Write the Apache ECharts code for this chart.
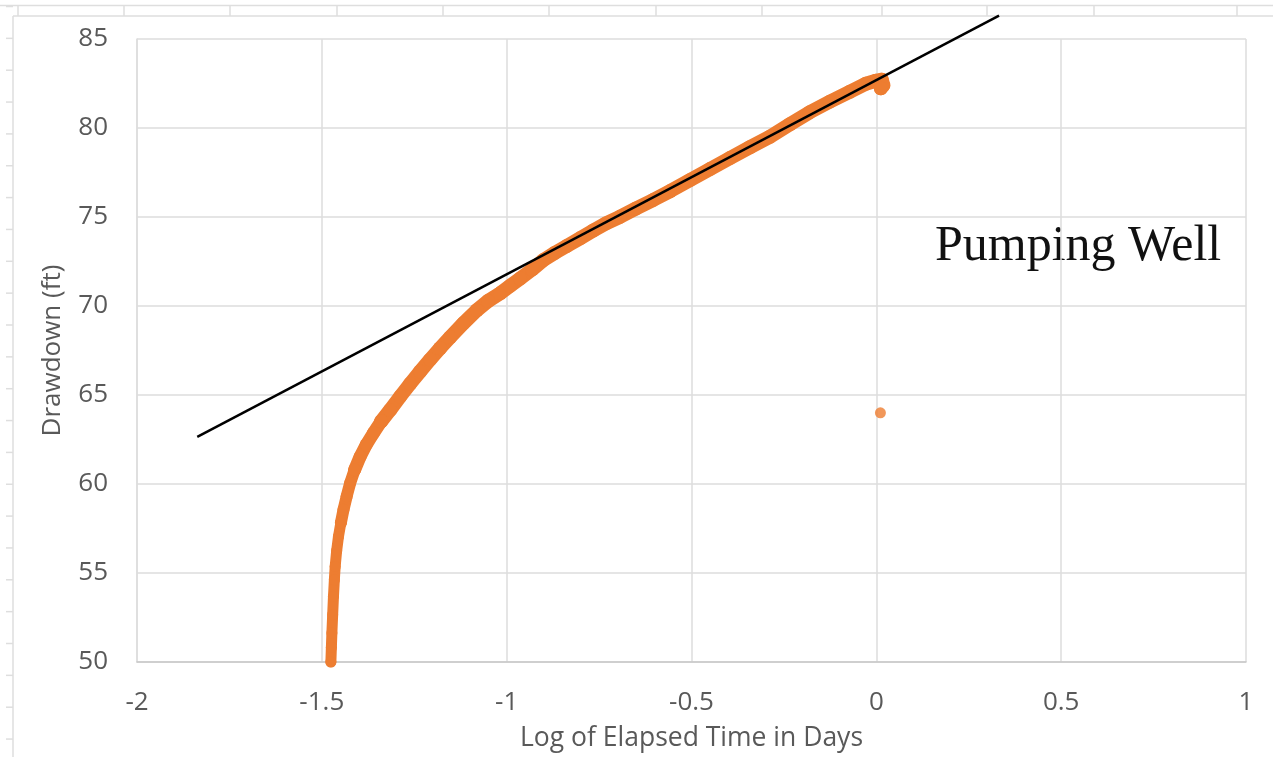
<!DOCTYPE html>
<html>
<head>
<meta charset="utf-8">
<script src="https://cdn.jsdelivr.net/npm/echarts@6/dist/echarts.min.js"></script>
<style>
  html, body { margin: 0; padding: 0; background: #fff; }
  #chart { width: 1273px; height: 757px; }
</style>
</head>
<body>
<div id="chart"></div>
<script>
// log of elapsed time (days) and drawdown (ft)
const logTime = [-1.4755, -1.4742, -1.4728, -1.4707, -1.4685, -1.4661, -1.4639, -1.4599, -1.4550, -1.4485,
  -1.4415, -1.4328, -1.4234, -1.4112, -1.3963, -1.3801, -1.3604, -1.3395, -1.3152, -1.2882,
  -1.2611, -1.2341, -1.2071, -1.1800, -1.1530, -1.1179, -1.0808, -1.0503, -1.0178, -0.9908,
  -0.9638, -0.9313, -0.9008, -0.8692, -0.8375, -0.8016, -0.7656, -0.7313, -0.6934, -0.6502,
  -0.6034, -0.5582, -0.5042, -0.4501, -0.3961, -0.3420, -0.2879, -0.2338, -0.1798, -0.1257,
  -0.0716, -0.0284, -0.0014, 0.0148, 0.0189, 0.0122];
const drawdown = [50.00, 50.81, 51.63, 52.66, 53.69, 54.62, 55.37, 56.25, 57.05, 57.82,
  58.55, 59.31, 60.05, 60.80, 61.54, 62.20, 62.86, 63.52, 64.16, 64.91,
  65.63, 66.32, 66.99, 67.63, 68.24, 69.01, 69.76, 70.28, 70.71, 71.13,
  71.54, 72.05, 72.58, 72.99, 73.37, 73.80, 74.24, 74.64, 75.01, 75.48,
  75.96, 76.45, 77.07, 77.69, 78.31, 78.92, 79.51, 80.21, 80.89, 81.48,
  82.04, 82.49, 82.65, 82.71, 82.40, 82.23];

// the lone low reading at the end of the test
const strayTime = [0.011];
const strayDrawdown = [64.0];

// straight-line fit drawn over the late data
const fitTime = [-1.837, 0.332];
const fitDrawdown = [62.65, 86.31];

const xTicks = [-2, -1.5, -1, -0.5, 0, 0.5, 1];
const yTicks = [50, 55, 60, 65, 70, 75, 80, 85];

const zip = (a, b) => a.map((v, i) => [v, b[i]]);
const points = zip(logTime, drawdown);
const ORANGE = '#ED7D31';
const LABEL = '#595959';

// spreadsheet cell borders behind the chart object
const sheetLines = [];
const gridGray = '#dedede';
function sheetLine(x1, y1, x2, y2) {
  sheetLines.push({ type: 'line', silent: true, shape: { x1, y1, x2, y2 }, style: { stroke: gridGray, lineWidth: 1.5 } });
}
sheetLine(0, 5.5, 1273, 5.5);
sheetLine(13, 16, 1273, 16);
sheetLine(13, 16, 13, 757);
[18, 124, 230, 337, 443, 549, 656, 762, 882, 987, 1094, 1237].forEach(x => sheetLine(x, 5, x, 16));
for (let y = 6.5; y < 757; y += 31.85) sheetLine(6, y, 13, y);

// the dots pile up thicker once the curve leans over, so the trail widens a bit
const bandPieces = [[0, 10, 11], [9, 14, 12], [13, 18, 13], [17, points.length, 14]];
const bandSeries = bandPieces.map(([from, to, width]) => ({
  name: 'Drawdown',
  type: 'line',
  data: points.slice(from, to),
  symbol: 'circle',
  symbolSize: width,
  showAllSymbol: true,
  itemStyle: { color: ORANGE },
  lineStyle: { color: ORANGE, width, cap: 'round', join: 'round' },
  z: 2
}));

const chart = echarts.init(document.getElementById('chart'));
chart.setOption({
  animation: false,
  backgroundColor: '#fff',
  grid: { left: 137, right: 27, top: 39, bottom: 95, outerBoundsMode: 'none' },
  xAxis: {
    type: 'value',
    min: xTicks[0],
    max: xTicks[xTicks.length - 1],
    interval: xTicks[1] - xTicks[0],
    name: 'Log of Elapsed Time in Days',
    nameLocation: 'middle',
    nameGap: 63,
    nameTextStyle: { fontFamily: 'Open Sans', fontSize: 26.5, color: LABEL },
    axisLine: { show: true, onZero: false, lineStyle: { color: '#c8c8c8', width: 1.5 } },
    axisTick: { show: false },
    axisLabel: { margin: 28, fontFamily: 'Open Sans', fontSize: 26, color: LABEL },
    splitLine: { show: true, lineStyle: { color: '#dcdcdc', width: 1.5 } }
  },
  yAxis: {
    type: 'value',
    min: yTicks[0],
    max: yTicks[yTicks.length - 1],
    interval: yTicks[1] - yTicks[0],
    name: 'Drawdown (ft)',
    nameLocation: 'middle',
    nameGap: 71,
    nameTextStyle: { fontFamily: 'Open Sans', fontSize: 26, color: LABEL },
    axisLine: { show: true, onZero: false, lineStyle: { color: '#dcdcdc', width: 1.5 } },
    axisTick: { show: false },
    axisLabel: { margin: 29, fontFamily: 'Open Sans', fontSize: 26, color: LABEL },
    splitLine: { show: true, lineStyle: { color: '#dcdcdc', width: 1.5 } }
  },
  graphic: sheetLines.concat([{
    type: 'text',
    left: 935,
    top: 222,
    style: { text: 'Pumping Well', font: '50px "Liberation Serif"', fill: '#111' }
  }]),
  series: bandSeries.concat([
    {
      name: 'Stray',
      type: 'scatter',
      data: zip(strayTime, strayDrawdown),
      symbolSize: 11,
      itemStyle: { color: ORANGE },
      z: 2
    },
    {
      name: 'Fit',
      type: 'line',
      data: zip(fitTime, fitDrawdown),
      showSymbol: false,
      clip: false,
      lineStyle: { color: '#000', width: 2.5 },
      z: 3
    }
  ])
});
</script>
</body>
</html>
